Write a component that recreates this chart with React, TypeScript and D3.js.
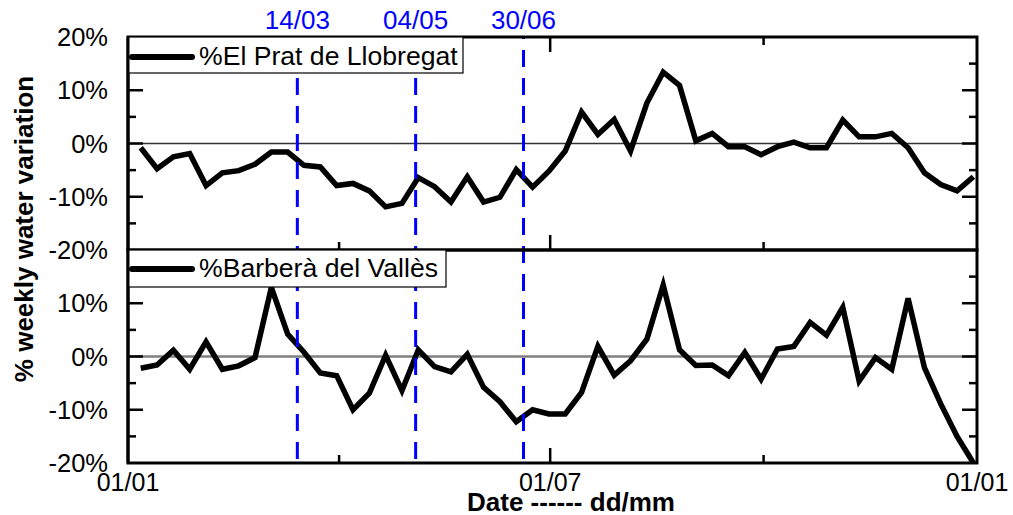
import React from "react";
import * as d3 from "d3";

// ---- Data ----
const weeks: number[] = d3.range(1, 53);
const pratValues: number[] = [
  -0.8, -4.75, -2.5, -1.9, -7.9, -5.5, -5.1, -3.9, -1.6, -1.6,
  -4.1, -4.4, -7.9, -7.5, -8.9, -11.9, -11.25, -6.4, -8.1, -11,
  -6.25, -11, -10.1, -4.9, -8.2, -5.2, -1.4, 5.9, 1.7, 4.5,
  -1.4, 7.6, 13.4, 10.9, 0.5, 1.9, -0.6, -0.6, -2.1, -0.6,
  0.25, -0.8, -0.8, 4.4, 1.25, 1.25, 1.9, -0.8, -5.5, -7.7,
  -8.9, -6.25,
];
const barberaValues: number[] = [
  -2.2, -1.6, 1.2, -2.4, 2.75, -2.4, -1.75, -0.2, 13, 4.2,
  0.8, -3.1, -3.6, -10, -6.9, 0.25, -6.4, 1.25, -1.9, -2.9,
  0.4, -5.8, -8.5, -12.25, -10, -10.8, -10.8, -6.75, 1.9, -3.5,
  -0.8, 3.25, 13.4, 1.25, -1.7, -1.6, -3.6, 0.75, -4.25, 1.4,
  1.9, 6.4, 4.0, 9.2, -4.6, -0.2, -2.4, 10.9, -2.1, -8.9,
  -15, -20,
];
const seriesNames: string[] = ["%El Prat de Llobregat", "%Barberà del Vallès"];
// x ticks (day of year, 2020)
const xTickDays: number[] = [0, 91, 182, 274, 366];
const xTickLabels: string[] = ["01/01", "", "01/07", "", "01/01"];
const xTickMajor: boolean[] = [true, false, true, false, true];
// marker lines (day of year)
const markerDays: number[] = [73, 124, 170.5];
const markerLabels: string[] = ["14/03", "04/05", "30/06"];
// y ticks
const yMajorTicks: number[] = [-20, -10, 0, 10, 20];
const yMinorTicks: number[] = [-15, -5, 5, 15];
const topYLabels: number[] = [20, 10, 0, -10, -20];
const botYLabels: number[] = [10, 0, -10, -20];

const FONT = "'Liberation Sans', Arial, sans-serif";

export default function App() {
  const W = 1013, H = 515;
  const left = 128, right = 977;
  const topY0 = 37, midY = 250, botY1 = 463;

  const x = d3.scaleLinear().domain([0, 366]).range([left, right]);
  const weekDay = (w: number) => ((w - 0.22) * 366) / 52;
  const yTop = d3.scaleLinear().domain([-20, 20]).range([midY, topY0]);
  const yBot = d3.scaleLinear().domain([-20, 20]).range([botY1, midY]);

  const lineTop = d3
    .line<number>()
    .x((_, i) => x(weekDay(weeks[i])))
    .y((v) => yTop(v));
  const lineBot = d3
    .line<number>()
    .x((_, i) => x(weekDay(weeks[i])))
    .y((v) => yBot(v));

  const panel = (y: d3.ScaleLinear<number, number>, top: number, bottom: number, isTop: boolean) => {
    const els: React.ReactNode[] = [];
    yMajorTicks.forEach((t, i) => {
      if (t === 20 || t === -20) return;
      els.push(<line key={"yl" + i} x1={left} x2={left + 15} y1={y(t)} y2={y(t)} stroke="#000" strokeWidth={2.5} />);
      els.push(<line key={"yr" + i} x1={right} x2={right - 15} y1={y(t)} y2={y(t)} stroke="#000" strokeWidth={2.5} />);
    });
    yMinorTicks.forEach((t, i) => {
      els.push(<line key={"yml" + i} x1={left} x2={left + 8} y1={y(t)} y2={y(t)} stroke="#000" strokeWidth={2.5} />);
      els.push(<line key={"ymr" + i} x1={right} x2={right - 8} y1={y(t)} y2={y(t)} stroke="#000" strokeWidth={2.5} />);
    });
    xTickDays.forEach((d, i) => {
      if (i === 0 || i === xTickDays.length - 1) return;
      const len = xTickMajor[i] ? 15 : 8;
      els.push(<line key={"xb" + i} x1={x(d)} x2={x(d)} y1={bottom} y2={bottom - len} stroke="#000" strokeWidth={2.5} />);
      if (isTop)
        els.push(<line key={"xt" + i} x1={x(d)} x2={x(d)} y1={top} y2={top + len} stroke="#000" strokeWidth={2.5} />);
    });
    return els;
  };

  return (
    <svg width={W} height={H} style={{ position: "absolute", left: 0, top: 0, background: "#fff" }} fontFamily={FONT}>
      <rect x={0} y={0} width={W} height={H} fill="#fff" />
      <line x1={left} x2={right} y1={yTop(0)} y2={yTop(0)} stroke="#333" strokeWidth={1.5} />
      <line x1={left} x2={right} y1={yBot(0)} y2={yBot(0)} stroke="#808080" strokeWidth={2.5} />
      <defs>
        <clipPath id="clipTop"><rect x={left} y={topY0} width={right - left} height={midY - topY0} /></clipPath>
        <clipPath id="clipBot"><rect x={left} y={midY} width={right - left} height={botY1 - midY} /></clipPath>
      </defs>
      <path d={lineTop(pratValues) || ""} fill="none" stroke="#000" strokeWidth={5.5} strokeLinejoin="miter" clipPath="url(#clipTop)" />
      <path d={lineBot(barberaValues) || ""} fill="none" stroke="#000" strokeWidth={5.5} strokeLinejoin="miter" clipPath="url(#clipBot)" />
      {markerDays.map((d, i) => (
        <g key={"m" + i}>
          <line x1={x(d)} x2={x(d)} y1={topY0} y2={botY1} stroke="#0000ff" strokeWidth={3} strokeDasharray="17,11" strokeDashoffset={-13} />
          <text x={x(d)} y={29} textAnchor="middle" fontSize={26} fill="#0000ff">{markerLabels[i]}</text>
        </g>
      ))}
      {panel(yTop, topY0, midY, true)}
      {panel(yBot, midY, botY1, false)}
      <rect x={left} y={topY0} width={right - left} height={midY - topY0} fill="none" stroke="#000" strokeWidth={3} />
      <rect x={left} y={midY} width={right - left} height={botY1 - midY} fill="none" stroke="#000" strokeWidth={3} />
      <g>
        <rect x={left} y={topY0} width={335} height={36} fill="#fff" stroke="#000" strokeWidth={1.2} />
        <line x1={132} x2={192} y1={topY0 + 20} y2={topY0 + 20} stroke="#000" strokeWidth={6} strokeLinecap="round" />
        <text x={199} y={topY0 + 28} fontSize={26.6} fill="#000">{seriesNames[0]}</text>
      </g>
      <g>
        <rect x={left} y={midY} width={318} height={37} fill="#fff" stroke="#000" strokeWidth={1.2} />
        <line x1={132} x2={192} y1={midY + 19} y2={midY + 19} stroke="#000" strokeWidth={6} strokeLinecap="round" />
        <text x={199} y={midY + 27} fontSize={26.6} fill="#000">{seriesNames[1]}</text>
      </g>
      <line x1={left} x2={left} y1={topY0} y2={botY1} stroke="#000" strokeWidth={3} />
      {topYLabels.map((v, i) => (
        <text key={"tl" + i} x={108} y={yTop(v) + 9} textAnchor="end" fontSize={25.5} fill="#000">{`${v}%`}</text>
      ))}
      {botYLabels.map((v, i) => (
        <text key={"bl" + i} x={108} y={yBot(v) + 9} textAnchor="end" fontSize={25.5} fill="#000">{`${v}%`}</text>
      ))}
      {xTickDays.map((d, i) =>
        xTickLabels[i] ? (
          <text key={"xl" + i} x={x(d)} y={491} textAnchor="middle" fontSize={25} fill="#000">{xTickLabels[i]}</text>
        ) : null
      )}
      <text x={571} y={511} textAnchor="middle" fontSize={26} fontWeight="bold" fill="#000">Date ------ dd/mm</text>
      <text transform="translate(33,229) rotate(-90)" textAnchor="middle" fontSize={26} fontWeight="bold" fill="#000">% weekly water variation</text>
    </svg>
  );
}
